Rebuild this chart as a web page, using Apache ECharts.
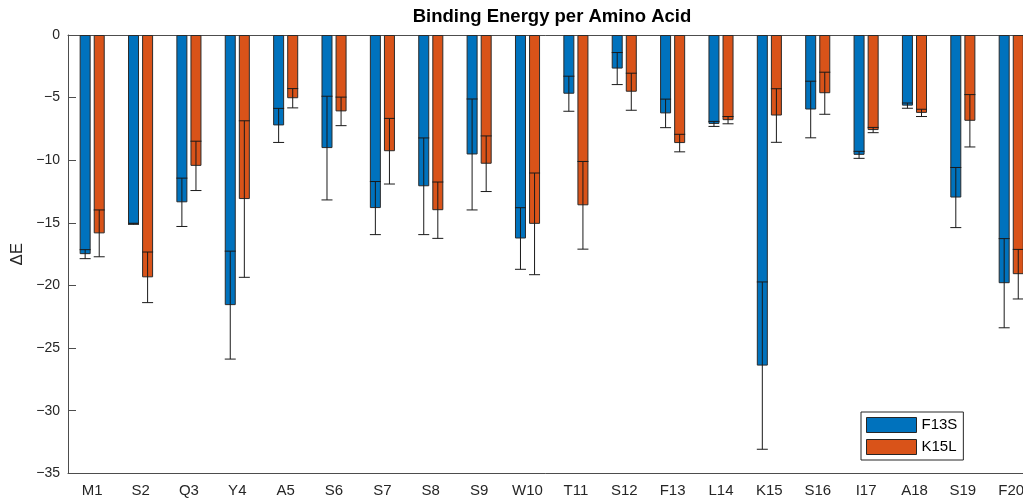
<!DOCTYPE html>
<html>
<head>
<meta charset="utf-8">
<script src="https://cdn.jsdelivr.net/npm/echarts@6/dist/echarts.min.js"></script>
<style>
html,body{margin:0;padding:0;background:#fff;}
#chart{width:1023px;height:499px;}
</style>
</head>
<body>
<div id="chart"></div>
<script>
const categories = ['M1','S2','Q3','Y4','A5','S6','S7','S8','S9','W10','T11','S12','F13','L14','K15','S16','I17','A18','S19','F20'];
const f13s    = [-17.50,-15.08,-13.36,-21.57,-7.22,-9.03,-13.82,-12.08,-9.54,-16.25,-4.69,-2.68,-6.26,-7.10,-26.40,-5.95,-9.57,-5.64,-12.98,-19.82];
const f13sErr = [0.36,0.04,1.93,4.31,1.36,4.14,2.12,3.86,4.43,2.46,1.40,1.28,1.14,0.20,6.68,2.26,0.28,0.21,2.40,3.56];
const k15l    = [-15.84,-19.35,-10.45,-13.10,-5.05,-6.10,-9.28,-13.99,-10.28,-15.08,-13.60,-4.53,-8.63,-6.80,-6.43,-4.65,-7.59,-6.22,-6.85,-19.10];
const k15lErr = [1.87,2.02,1.97,6.25,0.77,1.14,2.62,2.25,2.22,4.06,3.50,1.48,0.70,0.29,2.14,1.68,0.21,0.29,2.09,1.98];
const seriesNames = ['F13S','K15L'];
const yTicks = {min:-35, max:0, interval:5};

const BAR_W = 11, BAR_GAP = 0.28, CAP_HALF = 5.5;
const OFFSET = (BAR_W * (1 + BAR_GAP)) / 2;
const FONT = '"Liberation Sans", Arial, Helvetica, sans-serif';
const TXT = '#262626', AX = '#4d4d4d';

function errData(vals, errs){ return vals.map((v,i)=>[i, v, errs[i]]); }
function errRender(sign){
  return function(params, api){
    const i = api.value(0), v = api.value(1), e = api.value(2);
    const c = api.coord([i, v]);
    const x = c[0] + sign * OFFSET;
    const yt = api.coord([i, v + e])[1];
    const yb = api.coord([i, v - e])[1];
    const st = {stroke:'#1a1a1a', lineWidth:1};
    return {type:'group', children:[
      {type:'line', shape:{x1:x, y1:yt, x2:x, y2:yb}, style:st},
      {type:'line', shape:{x1:x-CAP_HALF, y1:yt, x2:x+CAP_HALF, y2:yt}, style:st},
      {type:'line', shape:{x1:x-CAP_HALF, y1:yb, x2:x+CAP_HALF, y2:yb}, style:st}
    ]};
  };
}

const chart = echarts.init(document.getElementById('chart'), null, {renderer:'canvas'});
chart.setOption({
  animation:false,
  backgroundColor:'#fff',
  title:{text:'Binding Energy per Amino Acid', left:552, top:7, textAlign:'center', padding:0,
    textStyle:{fontFamily:FONT, fontSize:18.5, fontWeight:'bold', color:'#000'}},
  legend:{orient:'vertical', left:861, top:412, data:seriesNames,
    itemWidth:50, itemHeight:15, itemGap:6, padding:[5,6,5,5],
    backgroundColor:'#fff', borderColor:'#262626', borderWidth:1, borderRadius:0,
    icon:'rect',
    itemStyle:{borderColor:'#262626', borderWidth:1},
    textStyle:{fontFamily:FONT, fontSize:15, color:'#000'}},
  grid:{left:68, top:35, height:438.3, width:967.4, containLabel:false, outerBoundsMode:'none'},
  xAxis:[
    {type:'category', data:categories, position:'bottom',
      axisLine:{show:true, onZero:false, lineStyle:{color:AX, width:1}},
      axisTick:{inside:true, length:8, alignWithLabel:true, lineStyle:{color:AX}},
      axisLabel:{fontFamily:FONT, fontSize:15, color:TXT, margin:10}},
    {type:'category', data:categories, position:'top',
      axisLine:{show:true, onZero:false, lineStyle:{color:AX, width:1}},
      axisTick:{inside:true, length:8, alignWithLabel:true, lineStyle:{color:AX}},
      axisLabel:{show:false}}
  ],
  yAxis:{type:'value', min:yTicks.min, max:yTicks.max, interval:yTicks.interval,
    name:'\u0394E', nameLocation:'middle', nameGap:38, nameRotate:90,
    nameTextStyle:{fontFamily:FONT, fontSize:17, color:TXT},
    axisLine:{show:true, onZero:false, lineStyle:{color:AX, width:1}},
    axisTick:{show:true, inside:true, length:8, lineStyle:{color:AX}},
    splitLine:{show:false},
    axisLabel:{fontFamily:FONT, fontSize:14, color:TXT, margin:8,
      formatter:v => String(v).replace('-', '\u2212')}},
  series:[
    {name:seriesNames[0], type:'bar', data:f13s, barWidth:BAR_W, barGap:(BAR_GAP*100)+'%',
      itemStyle:{color:'#0072BD', borderColor:'#2b2b2b', borderWidth:1}},
    {name:seriesNames[1], type:'bar', data:k15l, barWidth:BAR_W, barGap:(BAR_GAP*100)+'%',
      itemStyle:{color:'#D95319', borderColor:'#2b2b2b', borderWidth:1}},
    {type:'custom', renderItem:errRender(-1), data:errData(f13s, f13sErr), z:5, silent:true,
      encode:{x:0, y:1}},
    {type:'custom', renderItem:errRender(1), data:errData(k15l, k15lErr), z:5, silent:true,
      encode:{x:0, y:1}}
  ]
});
</script>
</body>
</html>
